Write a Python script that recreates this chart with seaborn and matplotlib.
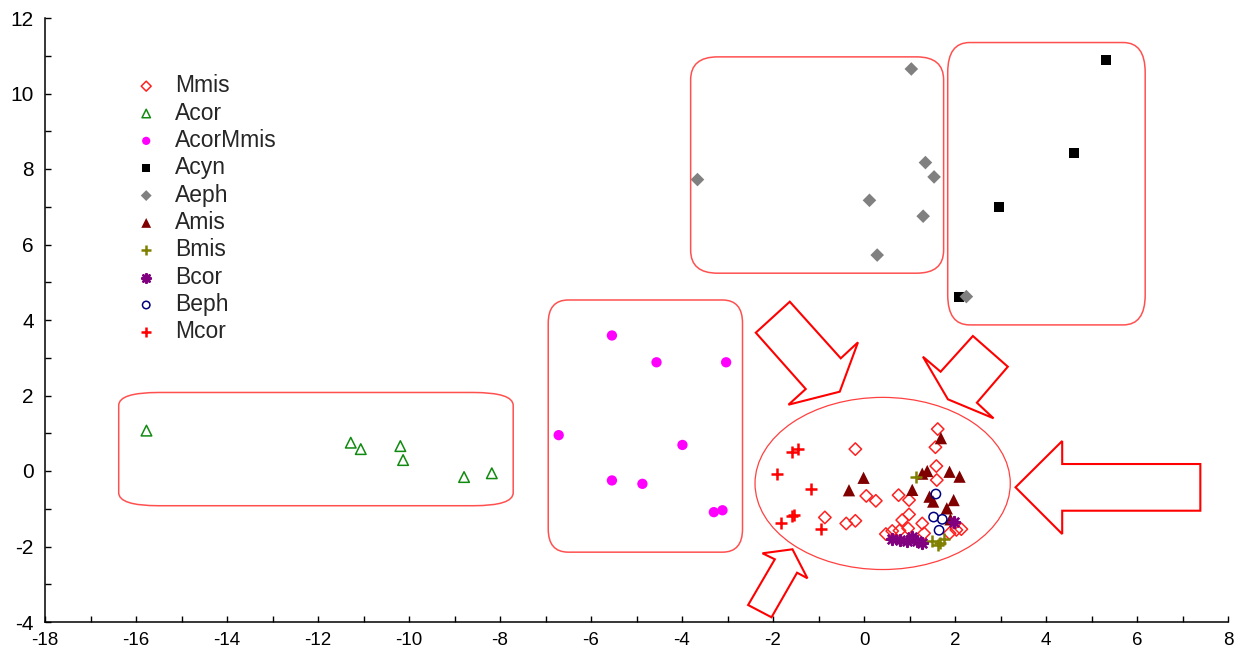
import numpy as np
import pandas as pd
import matplotlib
matplotlib.use('Agg')
import matplotlib.pyplot as plt
import seaborn as sns
from matplotlib.patches import FancyBboxPatch, Ellipse, Polygon
from matplotlib.ticker import MultipleLocator

# --- data ---
mmis_x = [-0.19, 1.62, 1.57, 1.59, 1.60, 0.05, 0.26, 0.76, 0.99, -0.86, -0.39, -0.19,
          0.99, 0.84, 1.28, 0.97, 0.78, 0.62, 0.48, 1.32, 1.88, 2.03, 2.14]
mmis_y = [0.58, 1.11, 0.63, 0.13, -0.24, -0.66, -0.79, -0.64, -0.77, -1.23, -1.39, -1.32,
          -1.15, -1.30, -1.39, -1.52, -1.58, -1.59, -1.67, -1.65, -1.65, -1.56, -1.54]

acor_x = [-15.77, -11.28, -11.06, -10.19, -10.13, -8.79, -8.18]
acor_y = [1.07, 0.75, 0.58, 0.66, 0.29, -0.16, -0.06]

acormmis_x = [-5.54, -4.56, -3.03, -6.71, -3.99, -5.54, -4.87, -3.30, -3.11]
acormmis_y = [3.59, 2.88, 2.88, 0.95, 0.69, -0.25, -0.34, -1.09, -1.04]

acyn_x = [5.31, 4.61, 2.96, 2.08]
acyn_y = [10.89, 8.43, 6.99, 4.62]

aeph_x = [1.04, -3.66, 1.35, 1.54, 0.12, 1.30, 0.29, 2.25]
aeph_y = [10.65, 7.72, 8.17, 7.79, 7.17, 6.75, 5.72, 4.62]

amis_x = [1.69, 1.39, 1.28, 1.88, 2.10, -0.01, -0.33, 1.06, 1.44, 1.52, 1.97, 1.82, 1.90]
amis_y = [0.87, 0.00, -0.07, -0.02, -0.15, -0.18, -0.51, -0.50, -0.68, -0.81, -0.77, -0.99, -1.28]

bmis_x = [1.14, 1.50, 1.66, 1.75, 1.62]
bmis_y = [-0.15, -1.85, -1.90, -1.80, -1.95]

bcor_x = [0.62, 0.80, 0.95, 1.06, 1.16, 1.27, 1.97]
bcor_y = [-1.81, -1.83, -1.86, -1.74, -1.85, -1.90, -1.34]

beph_x = [1.58, 1.53, 1.72, 1.65]
beph_y = [-0.61, -1.22, -1.28, -1.57]

mcor_x = [-1.59, -1.45, -1.91, -1.16, -1.59, -1.54, -1.83, -0.95]
mcor_y = [0.51, 0.58, -0.09, -0.49, -1.19, -1.17, -1.39, -1.54]

groups = ['Mmis', 'Acor', 'AcorMmis', 'Acyn', 'Aeph', 'Amis', 'Bmis', 'Bcor', 'Beph', 'Mcor']
xs = [mmis_x, acor_x, acormmis_x, acyn_x, aeph_x, amis_x, bmis_x, bcor_x, beph_x, mcor_x]
ys = [mmis_y, acor_y, acormmis_y, acyn_y, aeph_y, amis_y, bmis_y, bcor_y, beph_y, mcor_y]

df = pd.concat([pd.DataFrame({'x': x, 'y': y, 'group': g}) for g, x, y in zip(groups, xs, ys)],
               ignore_index=True)

# marker styles per group
styles = {
    'Mmis':     dict(marker='D', color='#ff2020', filled=False, s=40),
    'Acor':     dict(marker='^', color='#108a10', filled=False, s=58),
    'AcorMmis': dict(marker='o', color='#ff00ff', filled=True, s=55),
    'Acyn':     dict(marker='s', color='#000000', filled=True, s=52),
    'Aeph':     dict(marker='D', color='#808080', filled=True, s=48),
    'Amis':     dict(marker='^', color='#800000', filled=True, s=78),
    'Bmis':     dict(marker='+', color='#808000', filled=False, s=80),
    'Bcor':     dict(marker=(8, 2, 0), color='#800080', filled=False, s=60),
    'Beph':     dict(marker='o', color='#000080', filled=False, s=45),
    'Mcor':     dict(marker='+', color='#ff0000', filled=False, s=70),
}

sns.set_style('white')
plt.rcParams['font.family'] = ['Liberation Sans', 'DejaVu Sans']
plt.rcParams['axes.unicode_minus'] = False

fig = plt.figure(figsize=(12.46, 6.57), dpi=100)
ax = fig.add_axes([45 / 1246, 1 - 622 / 657, 1183 / 1246, 604 / 657])

for g in groups:
    st = styles[g]
    sub = df[df['group'] == g]
    if st['marker'] == '+' or isinstance(st['marker'], tuple):
        sns.scatterplot(data=sub, x='x', y='y', ax=ax, marker=st['marker'], color=st['color'],
                        s=st['s'], linewidth=1.8, label=g, zorder=3)
    elif st['filled']:
        sns.scatterplot(data=sub, x='x', y='y', ax=ax, marker=st['marker'], color=st['color'],
                        edgecolor='none', s=st['s'], label=g, zorder=3)
    else:
        sns.scatterplot(data=sub, x='x', y='y', ax=ax, marker=st['marker'], facecolor='none',
                        edgecolor=st['color'], linewidth=1.1, s=st['s'], label=g, zorder=3)

# --- annotation shapes (rounded boxes, ellipse, block arrows) ---
box_red = '#ff5050'
boxes = [  # x0, y0, x1, y1, rounding, aspect
    (-16.38, -0.92, -7.71, 2.08, 0.88, 0.39),
    (-6.94, -2.15, -2.67, 4.53, 0.44, 1.39),
    (-3.81, 5.24, 1.75, 10.97, 0.59, 1.03),
    (1.84, 3.87, 6.18, 11.35, 0.48, 1.65),
]
for x0, y0, x1, y1, r, a in boxes:
    ax.add_patch(FancyBboxPatch((x0, y0), x1 - x0, y1 - y0,
                                boxstyle=f'round,pad=0,rounding_size={r}', mutation_aspect=a,
                                fill=False, edgecolor=box_red, linewidth=1.1, zorder=1))

ax.add_patch(Ellipse((0.41, -0.33), 5.61, 4.56, fill=False, edgecolor='#ff4040',
                     linewidth=0.9, zorder=1))

arrows = [
    [(-1.631, 4.485), (-0.511, 2.985), (-0.132, 3.409), (-0.533, 2.101),
     (-1.660, 1.756), (-1.280, 2.172), (-2.378, 3.664)],
    [(2.393, 3.576), (3.161, 2.763), (2.481, 1.809), (2.847, 1.396),
     (1.844, 1.899), (1.295, 3.028), (1.684, 2.630)],
    [(-2.231, -2.180), (-1.572, -2.074), (-1.243, -2.842), (-1.471, -2.694),
     (-2.033, -3.875), (-2.547, -3.550), (-1.960, -2.339)],
    [(4.356, 0.795), (4.356, 0.185), (7.392, 0.185), (7.392, -1.052),
     (4.356, -1.052), (4.356, -1.669), (3.330, -0.432)],
]
for pts in arrows:
    ax.add_patch(Polygon(pts, closed=True, fill=False, edgecolor='#ff0000',
                         linewidth=1.5, joinstyle='miter', zorder=1))

# --- axes ---
ax.set_xlim(-18, 8)
ax.set_ylim(-4, 12)
ax.set_xticks(range(-18, 9, 2))
ax.set_yticks(range(-4, 13, 2))
ax.xaxis.set_minor_locator(MultipleLocator(1))
ax.yaxis.set_minor_locator(MultipleLocator(1))
ax.tick_params(which='both', direction='in', length=4, width=1, colors='black',
               bottom=True, left=True, top=False, right=False)
ax.tick_params(axis='x', labelsize=13.5, pad=7)
ax.tick_params(axis='y', labelsize=15, pad=8)
ax.set_xlabel('')
ax.set_ylabel('')
sns.despine(ax=ax)
for sp in ('left', 'bottom'):
    ax.spines[sp].set_color('black')
    ax.spines[sp].set_linewidth(1.1)

ax.legend(loc='upper left', bbox_to_anchor=(0.0778, 0.907), frameon=False, fontsize=16.5,
          handlelength=0.8, handletextpad=0.85, labelspacing=0.19, borderpad=0,
          borderaxespad=0, markerscale=0.8)

fig.savefig('out.png', dpi=100)
